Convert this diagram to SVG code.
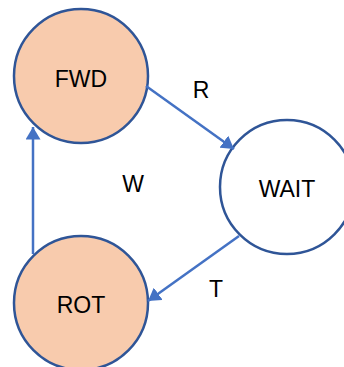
<svg xmlns="http://www.w3.org/2000/svg" width="344" height="367" viewBox="0 0 344 367">
<style>
.state{stroke:#2F5597;stroke-width:2.5}
.hot{fill:#F8CBAD}
.cold{fill:#FFFFFF}
.lbl{font-family:"Liberation Sans","Open Sans",sans-serif;font-size:23px;fill:#000;text-anchor:middle}
.edge{stroke:#4472C4;stroke-width:2.5;fill:none;marker-end:url(#ah)}
</style>
<defs>
<marker id="ah" viewBox="0 0 10 12" refX="10" refY="6" markerWidth="5" markerHeight="6" orient="auto" markerUnits="strokeWidth">
<path d="M0,0 L10,6 L0,12 z" fill="#4472C4"/>
</marker>
</defs>
<rect width="344" height="367" fill="#FFFFFF"/>
<g id="FWD">
<circle class="state hot" cx="81" cy="76" r="67"/>
<text class="lbl" x="81" y="87">FWD</text>
</g>
<g id="WAIT">
<circle class="state cold" cx="287" cy="187" r="67"/>
<text class="lbl" x="287" y="197">WAIT</text>
</g>
<g id="ROT">
<circle class="state hot" cx="81" cy="303" r="67"/>
<text class="lbl" x="81" y="313">ROT</text>
</g>
<g id="connectors">
<line class="edge" x1="146" y1="86" x2="234" y2="149"/>
<line class="edge" x1="239" y1="236" x2="148" y2="301"/>
<line class="edge" x1="33" y1="254" x2="33" y2="127"/>
<text class="lbl" x="201" y="98">R</text>
<text class="lbl" x="216" y="297">T</text>
<text class="lbl" x="133" y="192">W</text>
</g>
</svg>
